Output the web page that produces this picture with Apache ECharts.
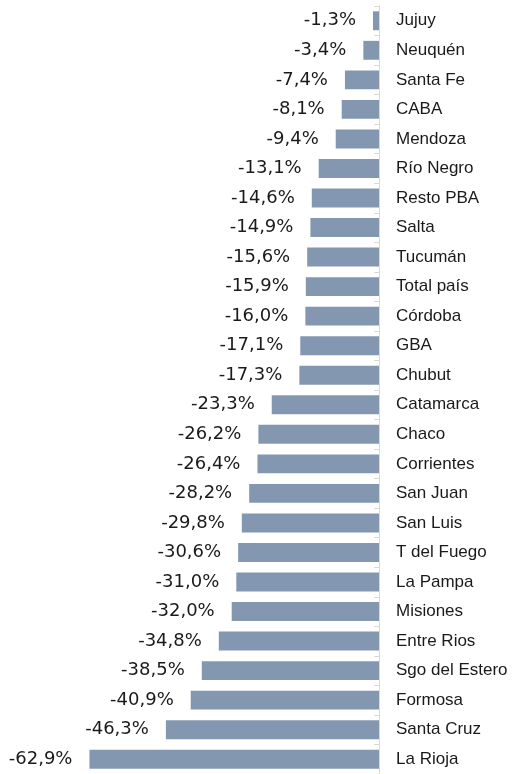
<!DOCTYPE html>
<html>
<head>
<meta charset="utf-8">
<script src="https://cdn.jsdelivr.net/npm/echarts@6/dist/echarts.min.js"></script>
<style>
  html, body { margin: 0; padding: 0; background: #fff; }
  #view { width: 513px; height: 774px; }
</style>
</head>
<body>
<div id="view"></div>
<script>
let provincias = [
  "Jujuy", "Neuquén", "Santa Fe", "CABA", "Mendoza", "Río Negro", "Resto PBA",
  "Salta", "Tucumán", "Total país", "Córdoba", "GBA", "Chubut", "Catamarca",
  "Chaco", "Corrientes", "San Juan", "San Luis", "T del Fuego", "La Pampa",
  "Misiones", "Entre Rios", "Sgo del Estero", "Formosa", "Santa Cruz", "La Rioja"
];
let variacion = [
  -1.3, -3.4, -7.4, -8.1, -9.4, -13.1, -14.6,
  -14.9, -15.6, -15.9, -16.0, -17.1, -17.3, -23.3,
  -26.2, -26.4, -28.2, -29.8, -30.6, -31.0,
  -32.0, -34.8, -38.5, -40.9, -46.3, -62.9
];

let myChart = echarts.init(document.getElementById("view"));

let option = {
  animation: false,
  backgroundColor: "#ffffff",
  grid: {
    left: 89,
    right: 134,
    top: 6,
    height: 770,
  },
  xAxis: {
    type: "value",
    min: -63,
    max: 0,
    show: false,
  },
  yAxis: {
    type: "category",
    position: "right",
    inverse: true,
    data: provincias,
    axisLine: { show: true, lineStyle: { color: "#d9d9d9", width: 1 } },
    axisTick: { show: true, inside: true, length: 5, lineStyle: { color: "#d9d9d9" } },
    axisLabel: {
      margin: 17,
      color: "#1a1a1a",
      fontSize: 17,
      fontFamily: "Liberation Sans",
    },
  },
  series: [
    {
      type: "bar",
      data: variacion,
      barWidth: "64%",
      itemStyle: { color: "#8497b0" },
      label: {
        show: true,
        position: "left",
        distance: 17,
        color: "#1a1a1a",
        fontSize: 18,
        fontFamily: "DejaVu Sans",
        formatter: (p) => p.value.toFixed(1).replace(".", ",") + "%",
      },
    },
  ],
};
myChart.setOption(option);
</script>
</body>
</html>
